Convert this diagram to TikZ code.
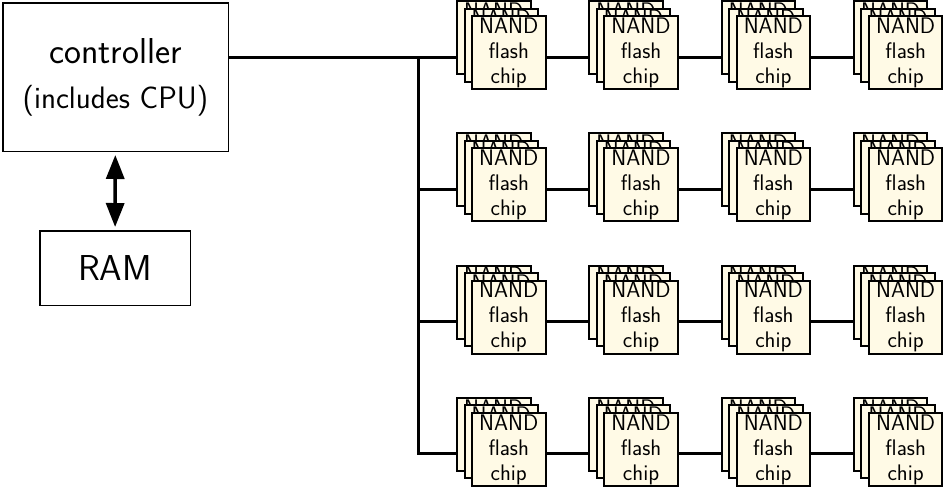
\documentclass[tikz,border=0pt]{standalone}
\usepackage{tikz}
\usetikzlibrary{arrows.meta,positioning,backgrounds}
\definecolor{chipcream}{HTML}{FFFAE6}

\begin{document}
\begin{tikzpicture}[
  x=1pt,y=1pt,
  font=\sffamily,
  chip/.style={draw,line width=2pt,fill=chipcream,align=center,inner sep=0pt,minimum width=73.5pt,minimum height=73pt,font=\sffamily\fontsize{22.5}{25}\selectfont},
  blockbox/.style={draw,line width=1.5pt,align=center,inner sep=0pt,font=\sffamily\fontsize{36}{45}\selectfont},
  bus/.style={line width=3pt},
  link/.style={line width=3pt},
  arr/.style={{Triangle[length=24pt,width=18pt]}-{Triangle[length=24pt,width=18pt]},line width=3.5pt,shorten <=3pt,shorten >=3pt}
]
\useasboundingbox (0,0) rectangle (944,-488);
\node[blockbox,minimum width=225.5pt,minimum height=148.5pt] (ctrl) at (115.5,-77) {controller\\{\fontsize{31}{45}\selectfont (includes CPU)}};
\node[blockbox,minimum width=150.5pt,minimum height=74.5pt] (ram) at (115,-268) {RAM};
\draw[arr] (ctrl) -- (ram);
% stacks of chips, back to front
\foreach \r in {1,...,4}
  \foreach \c in {1,...,4} {
    \pgfmathsetmacro\cx{508.75+132.3*(\c-1)}
    \pgfmathsetmacro\cy{-52.5-132.3*(\r-1)}
    \node[chip] (b-\r-\c) at (\cx-15,\cy+15) {NAND\\flash\\chip};
    \node[chip] (m-\r-\c) at (\cx-7.5,\cy+7.5) {NAND\\flash\\chip};
    \node[chip] (c-\r-\c) at (\cx,\cy) {NAND\\flash\\chip};
  }
\begin{scope}[on background layer]
  \draw[bus] ([yshift=20pt]ctrl.east) -- ([yshift=-4.5pt]c-1-1.west);
  \coordinate (tap) at (418,-57);
  \foreach \r in {2,3,4}
    \draw[bus] (tap) |- ([yshift=-4.5pt]c-\r-1.west);
  \foreach \r in {1,...,4}
    \foreach \c/\n in {1/2,2/3,3/4}
      \draw[link] ([yshift=-4.5pt]c-\r-\c.east) -- ([yshift=-4.5pt]c-\r-\n.west);
\end{scope}
\end{tikzpicture}
\end{document}
